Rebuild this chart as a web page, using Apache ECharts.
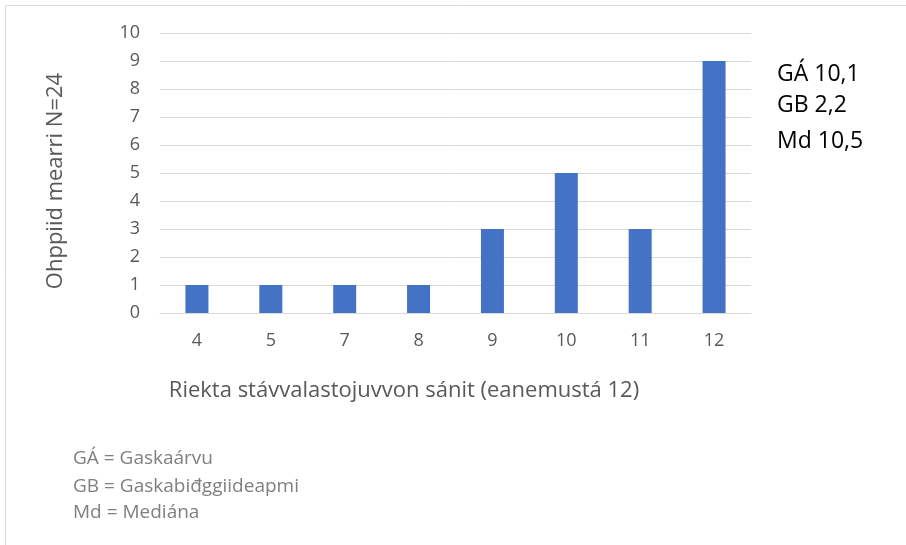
<!DOCTYPE html>
<html><head><meta charset="utf-8">
<script src="https://cdn.jsdelivr.net/npm/echarts@6/dist/echarts.min.js"></script>
<style>html,body{margin:0;padding:0;background:#fff}#c{width:906px;height:545px}</style>
</head><body><div id="c"></div>
<script>
const categories = ['4','5','7','8','9','10','11','12'];
const counts = [1,1,1,1,3,5,3,9];
const yTicks = {min:0,max:10,interval:1};
const yTitle = 'Ohppiid mearri N=24';
const xTitle = 'Riekta stávvalastojuvvon sánit (eanemustá 12)';
const stats = ['GÁ 10,1','GB 2,2','Md 10,5'];
const notes = ['GÁ = Gaskaárvu','GB = Gaskabiđggiideapmi','Md = Mediána'];

const F = '"Open Sans", Lato, sans-serif';
const chart = echarts.init(document.getElementById('c'));
const graphics = [
  {type:'rect', shape:{x:5.5,y:5.5,width:920,height:560}, style:{fill:null,stroke:'#d9d9d9',lineWidth:1}, silent:true},
  {type:'text', x:404, y:391, style:{text:xTitle, fontFamily:F, fontSize:22, fill:'#595959', align:'center', verticalAlign:'middle'}},
  {type:'text', x:56, y:181, rotation:Math.PI/2, style:{text:yTitle, fontFamily:F, fontSize:22, fill:'#595959', align:'center', verticalAlign:'middle'}}
];
stats.forEach((s,i)=>graphics.push({type:'text', x:777, y:[74,105,141][i], style:{text:s, fontFamily:F, fontSize:23, fill:'#000', align:'left', verticalAlign:'middle'}}));
notes.forEach((s,i)=>graphics.push({type:'text', x:73, y:[459,487,513][i], style:{text:s, fontFamily:F, fontSize:19, fill:'#7f7f7f', align:'left', verticalAlign:'middle'}}));

chart.setOption({
  animation:false,
  textStyle:{fontFamily:F},
  grid:{left:160,right:155,top:33,bottom:232},
  xAxis:{type:'category', data:categories,
    axisLine:{lineStyle:{color:'#d9d9d9'}}, axisTick:{show:false},
    axisLabel:{color:'#595959', fontSize:18, fontFamily:F, margin:19}},
  yAxis:{type:'value', min:yTicks.min, max:yTicks.max, interval:yTicks.interval,
    axisLine:{show:false}, axisTick:{show:false},
    axisLabel:{color:'#595959', fontSize:18, fontFamily:F, margin:20},
    splitLine:{lineStyle:{color:'#d9d9d9'}}},
  series:[{type:'bar', data:counts, barWidth:23, itemStyle:{color:'#4472C4'}}],
  graphic:graphics
});
</script></body></html>
